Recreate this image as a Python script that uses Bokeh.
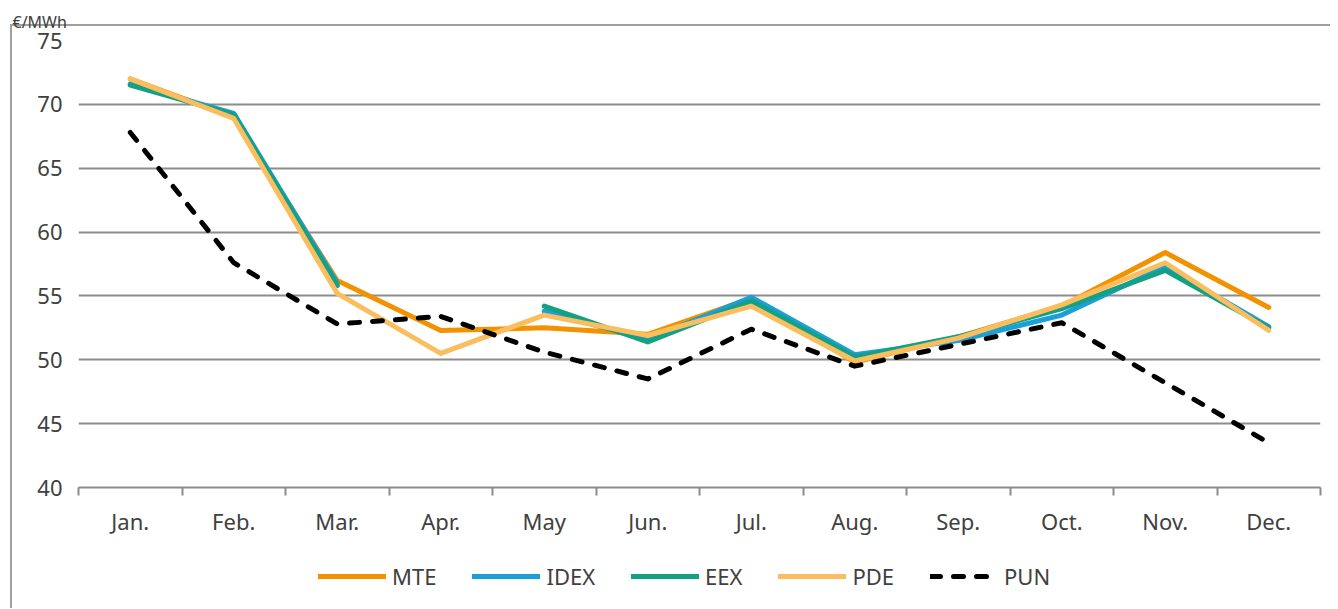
from bokeh.plotting import figure
from bokeh.models import Range1d, FixedTicker, Legend, LegendItem
from bokeh.layouts import column
from bokeh.embed import file_html
from bokeh.resources import INLINE

nan = float("nan")

months = ["Jan.", "Feb.", "Mar.", "Apr.", "May", "Jun.", "Jul.", "Aug.", "Sep.", "Oct.", "Nov.", "Dec."]
mte = [72.0, 69.0, 56.2, 52.3, 52.5, 52.0, 54.8, 49.8, 51.8, 54.2, 58.4, 54.1]
idex = [71.6, 69.3, 56.0, nan, 53.8, 51.6, 54.9, 50.4, 51.5, 53.5, 57.3, 52.6]
eex = [71.5, 69.2, 55.8, nan, 54.2, 51.4, 54.6, 50.2, 51.8, 54.0, 57.0, 52.5]
pde = [72.0, 68.9, 55.2, 50.5, 53.5, 51.9, 54.2, 49.9, 51.7, 54.3, 57.6, 52.3]
pun = [67.8, 57.6, 52.8, 53.4, 50.6, 48.5, 52.4, 49.5, 51.2, 52.9, 48.2, 43.5]
y_ticks = [40, 45, 50, 55, 60, 65, 70, 75]

FONT = "Noto Sans"
TXT = "#404040"
GRID = "#8c8c8c"
FRAME = "#a0a0a0"

xs = list(range(1, len(months) + 1))

p = figure(frame_width=1242, frame_height=447, x_range=Range1d(0.5, len(months) + 0.5),
           y_range=Range1d(40, 75), output_backend="svg", toolbar_location=None,
           title="€/MWh",
           min_border_left=78, min_border_right=10, min_border_top=40, min_border_bottom=0)
p.title.text_font = FONT
p.title.text_font_size = "16px"
p.title.text_font_style = "normal"
p.title.text_color = TXT
p.title.offset = -66
p.title.standoff = 16
p.outline_line_color = None
p.background_fill_color = "white"
p.border_fill_alpha = 0
p.styles = {
    "background": (f"linear-gradient({FRAME},{FRAME}) 10px 24px / 2px 100% no-repeat, "
                   f"linear-gradient({FRAME},{FRAME}) 10px 24px / 100% 2px no-repeat, white"),
}

p.xgrid.grid_line_color = None
p.ygrid.grid_line_color = GRID
p.ygrid.grid_line_width = 2
p.yaxis.ticker = FixedTicker(ticks=y_ticks)
p.yaxis.axis_line_color = None
p.yaxis.major_tick_line_color = None
p.yaxis.minor_tick_line_color = None
p.yaxis.major_tick_out = 0
p.yaxis.major_tick_in = 0
p.yaxis.major_label_standoff = 16

p.xaxis.ticker = FixedTicker(ticks=xs, minor_ticks=[x - 0.5 for x in xs] + [len(xs) + 0.5])
p.xaxis.major_label_overrides = {x: m for x, m in zip(xs, months)}
p.xaxis.axis_line_color = GRID
p.xaxis.axis_line_width = 2
p.xaxis.major_tick_line_color = None
p.xaxis.major_tick_out = 0
p.xaxis.major_tick_in = 0
p.xaxis.minor_tick_line_color = GRID
p.xaxis.minor_tick_line_width = 2
p.xaxis.minor_tick_out = 8
p.xaxis.minor_tick_in = 0
p.xaxis.major_label_standoff = 10

for ax in (p.xaxis[0], p.yaxis[0]):
    ax.major_label_text_font = FONT
    ax.major_label_text_font_size = "22px"
    ax.major_label_text_color = TXT

series = [
    ("MTE", mte, "#F39200", None),
    ("IDEX", idex, "#1A9FD8", None),
    ("EEX", eex, "#13A085", None),
    ("PDE", pde, "#FBBE5E", None),
    ("PUN", pun, "#000000", "10 13"),
]

# legend strip: a second, axis-less figure directly under the chart; its ranges
# keep the series themselves out of view, so only the legend shows
pl = figure(width=1330, height=70, output_backend="svg", toolbar_location=None,
            x_range=Range1d(0, 1), y_range=Range1d(0, 1),
            min_border_left=0, min_border_right=0, min_border_top=0, min_border_bottom=0)
pl.axis.visible = False
pl.grid.grid_line_color = None
pl.outline_line_color = None
pl.border_fill_alpha = 0
pl.background_fill_alpha = 0
pl.styles = {"background": (f"linear-gradient({FRAME},{FRAME}) 10px 0px / 2px 100% no-repeat, white")}

items = []
for name, vals, color, dash in series:
    kw = dict(line_width=5, line_color=color, line_join="round", line_cap="round")
    if dash:
        kw["line_dash"] = dash
    p.line(xs, vals, **kw)
    r2 = pl.line(xs, vals, **kw)
    items.append(LegendItem(label=name, renderers=[r2]))

legend = Legend(items=items, orientation="horizontal", location=(240, 17),
                glyph_width=68, glyph_height=20, label_standoff=6, spacing=36,
                label_text_font=FONT, label_text_font_size="22px", label_text_color=TXT,
                border_line_color=None, background_fill_alpha=0, margin=0, padding=0)
pl.add_layout(legend, "center")

layout = column(p, pl, spacing=0)
open("out.html", "w").write(file_html(layout, INLINE))
